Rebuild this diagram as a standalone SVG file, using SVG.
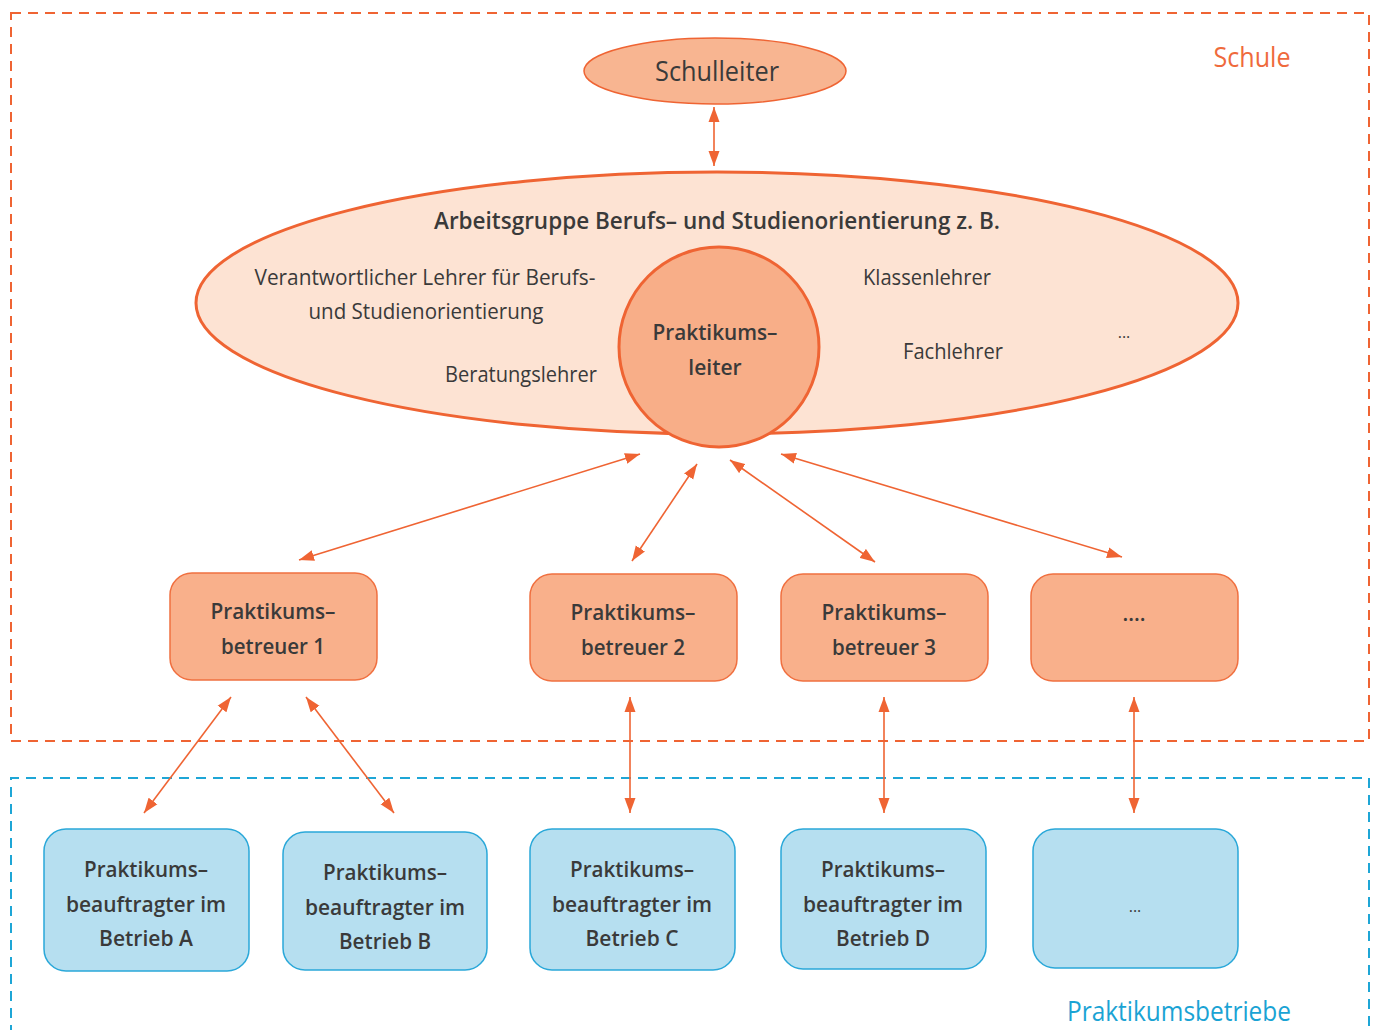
<svg xmlns="http://www.w3.org/2000/svg" width="1375" height="1030" viewBox="0 0 1375 1030">
<defs>
<marker id="ah" markerUnits="userSpaceOnUse" markerWidth="16" markerHeight="12" refX="15" refY="6" orient="auto-start-reverse" viewBox="0 0 16 12">
<path d="M0,0.5 L15,6 L0,11.5 z" fill="#ef6433"/>
</marker>
</defs>
<style>
text{font-family:"Open Sans","Noto Sans","Liberation Sans",sans-serif;fill:#3a3a3a;text-anchor:middle}
.t{font-size:21px;font-weight:400}
.b{font-size:21px;font-weight:600}
.ob{fill:#f9b08b;stroke:#f07040;stroke-width:1.5}
.bb{fill:#b6dff0;stroke:#2aa8d9;stroke-width:1.5}
.c line{stroke:#ef6433;stroke-width:1.6;marker-start:url(#ah);marker-end:url(#ah)}
</style>
<rect width="1375" height="1030" fill="#ffffff"/>
<g id="schule-frame">
<rect x="11" y="13" width="1358" height="728" fill="none" stroke="#ef6433" stroke-width="2" stroke-dasharray="10 7"/>
<text x="1252" y="67" style="font-size:27px;fill:#ef6a3c;font-weight:500" textLength="77" lengthAdjust="spacingAndGlyphs">Schule</text>
</g>
<g id="betriebe-frame">
<path d="M11,1035 L11,778 L1369,778 L1369,1035" fill="none" stroke="#1ea6d6" stroke-width="2" stroke-dasharray="10 7"/>
<text x="1179" y="1021" style="font-size:27px;fill:#1aa3d4;font-weight:500" textLength="224" lengthAdjust="spacingAndGlyphs">Praktikumsbetriebe</text>
</g>
<g id="schulleiter">
<ellipse cx="715" cy="71" rx="131" ry="33" fill="#f8b591" stroke="#ef6433" stroke-width="1.5"/>
<text x="717" y="81" style="font-size:27px;font-weight:500" textLength="124" lengthAdjust="spacingAndGlyphs">Schulleiter</text>
</g>
<g id="arbeitsgruppe">
<ellipse cx="717" cy="303" rx="521" ry="131" fill="#fde3d3" stroke="#ef6433" stroke-width="3"/>
<text x="717" y="229" style="font-size:23px;font-weight:600" textLength="566" lengthAdjust="spacingAndGlyphs">Arbeitsgruppe Berufs– und Studienorientierung z. B.</text>
<text class="t" x="425" y="285" textLength="341" lengthAdjust="spacingAndGlyphs">Verantwortlicher Lehrer für Berufs-</text>
<text class="t" x="426" y="319" textLength="235" lengthAdjust="spacingAndGlyphs">und Studienorientierung</text>
<text class="t" x="521" y="382" textLength="152" lengthAdjust="spacingAndGlyphs">Beratungslehrer</text>
<text class="t" x="927" y="285" textLength="128" lengthAdjust="spacingAndGlyphs">Klassenlehrer</text>
<text class="t" x="953" y="359" textLength="100" lengthAdjust="spacingAndGlyphs">Fachlehrer</text>
<text class="t" x="1124" y="338" style="font-size:16px">...</text>
</g>
<g id="praktikumsleiter">
<circle cx="719" cy="347" r="100" fill="#f8ae88" stroke="#ef6433" stroke-width="3"/>
<text class="b" x="715" y="340" textLength="125" lengthAdjust="spacingAndGlyphs">Praktikums–</text>
<text class="b" x="715" y="375">leiter</text>
</g>
<g id="betreuer1">
<rect class="ob" x="170" y="573" width="207" height="107" rx="22"/>
<text class="b" x="273" y="619" textLength="125" lengthAdjust="spacingAndGlyphs">Praktikums–</text>
<text class="b" x="273" y="654" textLength="104" lengthAdjust="spacingAndGlyphs">betreuer 1</text>
</g>
<g id="betreuer2">
<rect class="ob" x="530" y="574" width="207" height="107" rx="22"/>
<text class="b" x="633" y="620" textLength="125" lengthAdjust="spacingAndGlyphs">Praktikums–</text>
<text class="b" x="633" y="655" textLength="104" lengthAdjust="spacingAndGlyphs">betreuer 2</text>
</g>
<g id="betreuer3">
<rect class="ob" x="781" y="574" width="207" height="107" rx="22"/>
<text class="b" x="884" y="620" textLength="125" lengthAdjust="spacingAndGlyphs">Praktikums–</text>
<text class="b" x="884" y="655" textLength="104" lengthAdjust="spacingAndGlyphs">betreuer 3</text>
</g>
<g id="betreuer4">
<rect class="ob" x="1031" y="574" width="207" height="107" rx="22"/>
<text class="b" x="1134" y="621">....</text>
</g>
<g id="betriebA">
<rect class="bb" x="44" y="829" width="205" height="142" rx="22"/>
<text class="b" x="146" y="877" textLength="124" lengthAdjust="spacingAndGlyphs">Praktikums–</text>
<text class="b" x="146" y="912" textLength="160" lengthAdjust="spacingAndGlyphs">beauftragter im</text>
<text class="b" x="146" y="946" textLength="94" lengthAdjust="spacingAndGlyphs">Betrieb A</text>
</g>
<g id="betriebB">
<rect class="bb" x="283" y="832" width="204" height="138" rx="22"/>
<text class="b" x="385" y="880" textLength="124" lengthAdjust="spacingAndGlyphs">Praktikums–</text>
<text class="b" x="385" y="915" textLength="160" lengthAdjust="spacingAndGlyphs">beauftragter im</text>
<text class="b" x="385" y="949" textLength="92" lengthAdjust="spacingAndGlyphs">Betrieb B</text>
</g>
<g id="betriebC">
<rect class="bb" x="530" y="829" width="205" height="141" rx="22"/>
<text class="b" x="632" y="877" textLength="124" lengthAdjust="spacingAndGlyphs">Praktikums–</text>
<text class="b" x="632" y="912" textLength="160" lengthAdjust="spacingAndGlyphs">beauftragter im</text>
<text class="b" x="632" y="946" textLength="93" lengthAdjust="spacingAndGlyphs">Betrieb C</text>
</g>
<g id="betriebD">
<rect class="bb" x="781" y="829" width="205" height="140" rx="22"/>
<text class="b" x="883" y="877" textLength="124" lengthAdjust="spacingAndGlyphs">Praktikums–</text>
<text class="b" x="883" y="912" textLength="160" lengthAdjust="spacingAndGlyphs">beauftragter im</text>
<text class="b" x="883" y="946" textLength="94" lengthAdjust="spacingAndGlyphs">Betrieb D</text>
</g>
<g id="betriebE">
<rect class="bb" x="1033" y="829" width="205" height="139" rx="22"/>
<text class="t" x="1135" y="912" style="font-size:16px">...</text>
</g>
<g id="connectors" class="c">
<line x1="714" y1="107" x2="714" y2="166"/>
<line x1="640" y1="454" x2="299" y2="560"/>
<line x1="697" y1="464" x2="632" y2="561"/>
<line x1="730" y1="460" x2="875" y2="562"/>
<line x1="781" y1="454" x2="1122" y2="557"/>
<line x1="231" y1="697" x2="144" y2="813"/>
<line x1="306" y1="697" x2="394" y2="813"/>
<line x1="630" y1="697" x2="630" y2="813"/>
<line x1="884" y1="697" x2="884" y2="813"/>
<line x1="1134" y1="697" x2="1134" y2="813"/>
</g>
</svg>
